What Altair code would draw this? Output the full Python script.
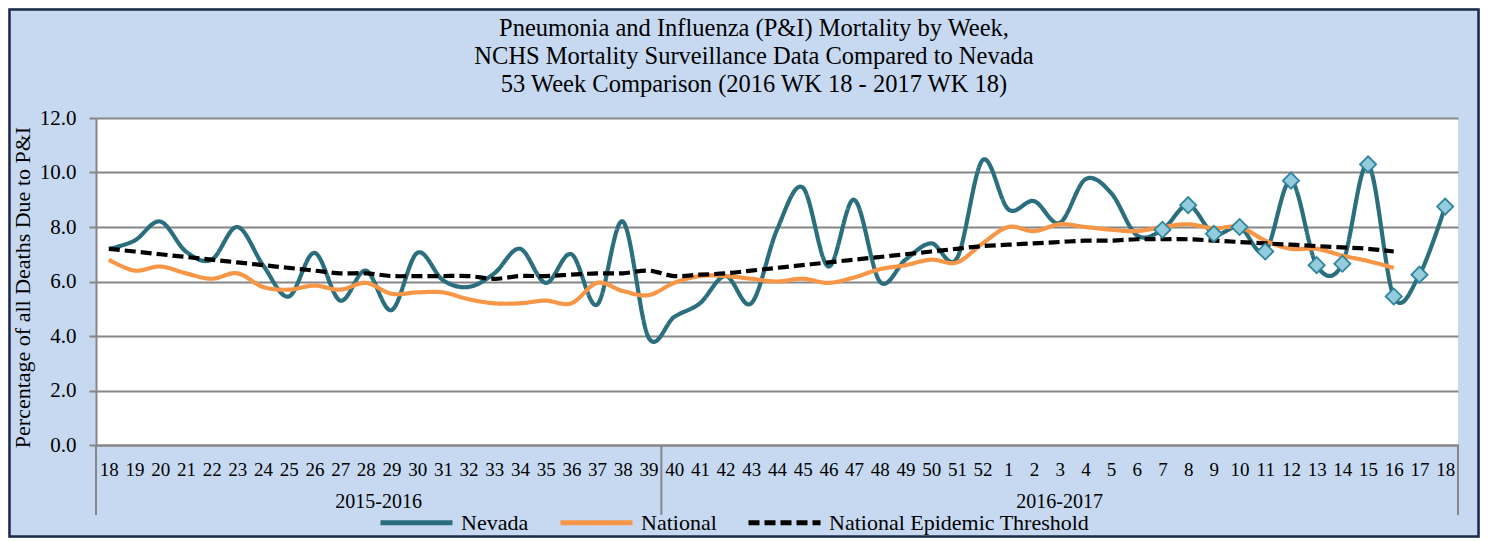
import json
import altair as alt
import pandas as pd

# ---- data ----
week_labels = [str(w) for w in range(18, 53)] + [str(w) for w in range(1, 19)]
season = ["2015-2016"] * 22 + ["2016-2017"] * 31

nevada = [7.2, 7.5, 8.2, 7.1, 6.8, 8.0, 6.6, 5.45, 7.05, 5.3, 6.4, 4.95, 7.05, 6.05,
          5.8, 6.3, 7.2, 5.95, 7.0, 5.15, 8.2, 3.95, 4.7, 5.2, 6.2, 5.2, 7.9, 9.45,
          6.55, 9.0, 6.0, 6.8, 7.4, 6.85, 10.45,
          8.65, 8.95, 8.15, 9.75, 9.25, 7.7, 7.9, 8.8, 7.75, 8.0, 7.1, 9.7, 6.6,
          6.65, 10.3, 5.45, 6.25, 8.75]
national = [6.8, 6.4, 6.55, 6.3, 6.1, 6.3, 5.8, 5.7, 5.85, 5.7, 5.95, 5.55, 5.6, 5.6,
            5.35, 5.2, 5.2, 5.3, 5.2, 5.95, 5.65, 5.5, 5.95, 6.2, 6.2, 6.1, 6.0, 6.1,
            5.95, 6.15, 6.45, 6.6, 6.8, 6.7, 7.4,
            8.0, 7.85, 8.1, 8.0, 7.9, 7.85, 8.0, 8.1, 7.95, 8.0, 7.5, 7.2, 7.2,
            6.95, 6.75, 6.5, None, None]
threshold = [7.2, 7.1, 7.0, 6.9, 6.8, 6.7, 6.6, 6.5, 6.4, 6.3, 6.3, 6.2, 6.2, 6.2,
             6.2, 6.1, 6.2, 6.2, 6.25, 6.3, 6.3, 6.4, 6.2, 6.25, 6.3, 6.4, 6.5, 6.6,
             6.7, 6.8, 6.9, 7.0, 7.1, 7.2, 7.3,
             7.35, 7.4, 7.45, 7.5, 7.5, 7.55, 7.55, 7.55, 7.5, 7.45, 7.4, 7.35, 7.3,
             7.25, 7.2, 7.1, None, None]
marked = [False] * 41 + [True] * 12   # Nevada weeks 7-18 of 2017 drawn with diamonds

series_names = ["Nevada", "National", "National Epidemic Threshold"]
series_colors = ["#2B6E7E", "#F79646", "#000000"]
series_dash = [[1, 0], [1, 0], [11, 5]]

season_names = ["2015-2016", "2016-2017"]
season_centers = [10.5, 37.0]
season_bounds = [-0.5, 21.5, 52.5]

title_lines = ["Pneumonia and Influenza (P&I) Mortality by Week,",
               "NCHS Mortality Surveillance Data Compared to Nevada",
               "53 Week Comparison (2016 WK 18 - 2017 WK 18)"]

# ---- tables ----
rows = []
for i in range(len(week_labels)):
    for name, vals in zip(series_names, [nevada, national, threshold]):
        if vals[i] is not None:
            rows.append({"idx": i, "week": week_labels[i], "series": name, "value": vals[i]})
long = pd.DataFrame(rows)
marks_df = pd.DataFrame({"idx": list(range(len(week_labels))), "value": nevada, "marked": marked})
marks_df = marks_df[marks_df["marked"]]

W, H = 1362, 327
FONT = "Liberation Serif"
GRAY = "#868686"

label_expr = json.dumps(week_labels) + "[datum.value]"
x_scale = alt.Scale(domain=[-0.5, 52.5], nice=False, zero=False)
y_scale = alt.Scale(domain=[0, 12], nice=False)

x_axis = alt.Axis(values=list(range(53)), labelExpr=label_expr, title=None,
                  grid=False, ticks=False, tickSize=0, domainColor=GRAY,
                  domainWidth=2, labelFont=FONT, labelFontSize=19,
                  labelColor="black", labelBaseline="alphabetic",
                  labelPadding=30, labelOverlap=False, labelFlush=False,
                  labelSeparation=0, labelBound=False)
y_axis = alt.Axis(values=[0, 2, 4, 6, 8, 10, 12], format=".1f",
                  title="Percentage of all Deaths Due to P&I",
                  titleFont=FONT, titleFontSize=22, titleFontWeight="normal",
                  titleColor="black", titleX=-74, titleY=169,
                  titleAngle=-90, titleAlign="center", titleBaseline="middle",
                  grid=True, gridColor=GRAY, gridWidth=2,
                  domainColor=GRAY, domainWidth=2, tickColor=GRAY,
                  tickWidth=2, tickSize=7, labelPadding=13,
                  labelFont=FONT, labelFontSize=21, labelColor="black")

legend = alt.Legend(title=None, orient="none", legendX=282, legendY=366,
                    direction="horizontal", symbolType="stroke", symbolSize=5184,
                    symbolStrokeWidth=5, labelFont=FONT, labelFontSize=22,
                    labelColor="black", labelOffset=6, columnPadding=21,
                    labelLimit=400)

color_enc = alt.Color("series:N", scale=alt.Scale(domain=series_names, range=series_colors),
                      legend=legend)
dash_enc = alt.StrokeDash("series:N", scale=alt.Scale(domain=series_names, range=series_dash),
                          legend=legend)


def xq(field):
    return alt.X(field, scale=x_scale, axis=x_axis)


def yq(field):
    return alt.Y(field, scale=y_scale, axis=y_axis)


frame = alt.Chart(pd.DataFrame({"a": [0]})).mark_rect(
    fill="transparent", stroke="#1C2B45", strokeWidth=2.5
).encode(x=alt.value(-86.5), x2=alt.value(W + 20.5), y=alt.value(-108.5), y2=alt.value(H + 91.5))

lines = []
for name in series_names:
    lines.append(
        alt.Chart(long).transform_filter(alt.datum.series == name)
        .mark_line(interpolate="cardinal", strokeWidth=4.2, strokeCap="butt")
        .encode(x=xq("idx:Q"), y=yq("value:Q"), color=color_enc, strokeDash=dash_enc)
    )

diamonds = alt.Chart(marks_df).mark_point(
    shape="diamond", filled=True, fill="#93CDDD", stroke="#31849B",
    strokeWidth=1.8, size=260, opacity=1
).encode(x=xq("idx:Q"), y=yq("value:Q"))

sep_df = pd.DataFrame({"b": season_bounds})
seps = alt.Chart(sep_df).mark_rule(color=GRAY, strokeWidth=2).encode(
    x=xq("b:Q"), y=alt.value(H), y2=alt.value(H + 70))

season_df = pd.DataFrame({"c": season_centers, "name": season_names})
season_text = alt.Chart(season_df).mark_text(
    font=FONT, fontSize=20, color="black", baseline="middle", align="center"
).encode(x=xq("c:Q"), y=alt.value(384), text="name:N")

title_text = alt.Chart(pd.DataFrame({"a": [0]})).mark_text(
    font=FONT, fontSize=24.5, color="black", align="center", baseline="alphabetic",
    lineHeight=28, text=title_lines
).encode(x=alt.value(658), y=alt.value(-82))

chart = alt.layer(frame, *lines, diamonds, seps, season_text, title_text).properties(
    width=W, height=H,
    autosize=alt.AutoSizeParams(type="none"),
    padding={"left": 88, "top": 110, "right": 22, "bottom": 93},
    background="#C6D9F1",
).configure_view(fill="white", stroke=None, strokeWidth=0
).configure_axisX(labelOverlap=False)

chart.save("out.html", embed_options={"renderer": "svg", "actions": False})
